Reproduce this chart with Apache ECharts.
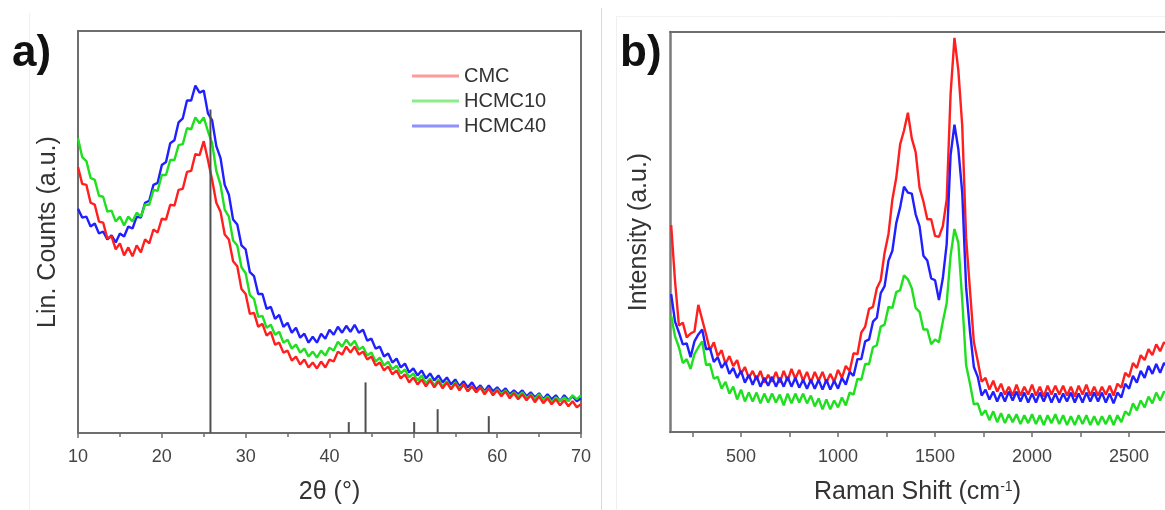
<!DOCTYPE html>
<html>
<head>
<meta charset="utf-8">
<script src="https://cdn.jsdelivr.net/npm/echarts@6/dist/echarts.min.js"></script>
<style>
html,body{margin:0;padding:0;background:#fff;}
#chart{width:1165px;height:510px;}
</style>
</head>
<body>
<div id="chart"></div>
<script>
// ---------- DATA ----------
// a) XRD: intensities (a.u.) sampled every 0.5 deg from 10 to 70 deg
const xrdStart = 10, xrdStep = 0.5;
const xrdCMC = [
268,251,250,232,230,213,212,196,198,185,
191,179,187,178,189,182,195,191,205,202,
216,215,230,229,245,246,263,264,281,280,
294,275,255,232,223,200,195,173,168,145,
140,120,121,107,110,98,102,89,91,81,
83,73,77,69,74,66,71,65,72,66,
74,72,82,79,87,81,87,79,82,74,
77,68,71,63,67,59,63,55,59,51,
56,49,54,47,53,46,52,45,51,44,
50,43,49,42,47,41,46,39,45,38,
43,37,42,35,40,34,39,33,38,31,
37,30,35,29,34,28,33,27,32,26,
29];
const xrdHCMC10 = [
297,278,274,257,255,239,238,223,224,213,
218,209,218,213,222,218,230,230,245,244,
260,260,275,275,290,291,307,306,318,312,
318,304,292,264,250,225,218,194,189,167,
161,139,135,117,118,106,109,99,102,91,
94,85,89,81,85,77,82,76,83,78,
86,83,92,87,94,88,93,84,87,78,
81,72,76,68,72,64,68,60,64,56,
60,53,58,50,55,48,54,47,52,45,
51,45,49,42,47,41,46,41,45,39,
44,39,43,37,41,37,41,35,39,34,
39,33,37,31,36,32,36,32,38,34,
38];
const xrdHCMC40 = [
226,217,218,208,211,201,203,195,199,192,
201,198,208,206,218,217,232,234,250,252,
270,273,292,295,313,317,335,335,350,343,
345,322,315,289,277,250,240,215,210,189,
185,162,158,140,140,125,127,115,119,107,
111,101,106,96,100,91,97,91,100,95,
104,99,107,101,108,102,109,101,104,93,
95,85,87,77,80,71,75,66,70,61,
65,58,63,55,60,53,58,51,56,49,
54,47,52,46,51,44,48,42,48,42,
46,41,45,39,43,39,43,37,41,36,
40,34,39,34,38,32,38,33,37,32,
35];
// reference pattern sticks: [2theta, relative height]
const xrdSticks = [[25.8,326],[42.3,11],[44.3,51],[50.1,11],[52.9,24],[59.0,17]];
const xrdTicks = [10,20,30,40,50,60,70];

// b) Raman: intensities (a.u.) sampled every 20 cm-1 from 140 to 2700 cm-1
const ramanStart = 140, ramanStep = 20;
const ramanCMC = [
210,153,108,111,96,100,102,129,114,99,
83,91,77,83,69,77,67,73,59,66,
55,62,53,62,50,58,51,61,50,62,
52,64,54,63,52,61,50,61,52,61,
50,59,51,63,55,67,62,80,79,101,
107,125,127,146,154,182,201,236,258,292,
306,324,298,284,248,234,216,216,199,198,
209,236,343,400,367,311,197,144,91,72,
51,55,43,52,41,49,38,46,37,48,
37,46,38,48,37,46,36,47,38,47,
38,47,37,46,36,47,38,48,37,46,
37,46,38,47,37,49,45,60,56,70,
65,78,73,84,78,89,82,91,88];
const ramanHCMC10 = [
118,97,86,70,74,64,79,86,92,68,
69,54,56,44,51,39,46,33,43,31,
40,31,40,29,39,30,39,30,38,27,
39,29,39,30,39,29,37,26,34,23,
33,23,32,25,35,27,40,38,54,53,
69,69,86,88,107,109,127,126,142,144,
159,155,146,126,122,104,104,89,94,91,
112,131,179,206,192,134,68,49,28,29,
17,22,12,21,10,19,9,18,10,18,
8,17,9,18,8,17,7,17,9,18,
8,17,7,16,7,17,8,17,7,16,
7,16,8,17,7,17,10,21,17,29,
22,32,25,36,29,40,32,41,38];
const ramanHCMC40 = [
140,112,101,89,90,76,92,99,104,84,
85,71,76,65,71,59,65,55,62,50,
58,48,57,46,55,47,56,46,55,46,
56,46,55,45,53,44,53,44,53,43,
53,43,52,44,55,48,61,57,74,74,
92,94,112,116,141,148,174,184,212,228,
249,243,242,221,209,179,174,156,154,134,
156,191,281,312,287,243,147,102,66,56,
37,43,33,41,31,40,31,41,32,41,
31,40,30,39,30,40,31,40,30,39,
30,39,31,40,30,39,30,40,31,40,
31,40,30,39,29,40,35,49,44,57,
50,62,55,67,59,69,60,70,66];
const ramanLabelTicks = [500,1000,1500,2000,2500];
const ramanMinorTicks = [250,500,750,1000,1250,1500,1750,2000,2250,2500];

const seriesNames = ['CMC','HCMC10','HCMC40'];
const seriesColors = {CMC:'#ff1f1f', HCMC10:'#1fe01f', HCMC40:'#1f1fff'};
const legendColors = {CMC:'#ff9a9a', HCMC10:'#8cec8c', HCMC40:'#8f8fff'};

// ---------- CHART ----------
const FONT = "'Liberation Sans', Arial, Helvetica, sans-serif";
const AX = '#6e6e6e';
const pairs = (arr, start, step) => arr.map((v, i) => [start + step * i, v]);
const ramanMin = 134, ramanMax = 2685;

const chart = echarts.init(document.getElementById('chart'), null, {renderer:'canvas'});

function lineSeries(name, data, xi, yi) {
  return {
    type:'line', name, xAxisIndex:xi, yAxisIndex:yi,
    data, showSymbol:false, symbol:'none', animation:false,
    lineStyle:{color:seriesColors[name], width:2.4},
    itemStyle:{color:seriesColors[name]},
    emphasis:{disabled:true}
  };
}

const option = {
  backgroundColor:'#ffffff',
  animation:false,
  grid:[
    {left:78, right:584, top:31, bottom:74, show:true, borderColor:AX, borderWidth:2, backgroundColor:'transparent'},
    {left:670, right:0, top:32, bottom:72, show:false}
  ],
  legend:{
    orient:'vertical', left:407, top:61, icon:'rect',
    itemWidth:47, itemHeight:3, itemGap:5,
    textStyle:{fontFamily:FONT, fontSize:20, color:'#333', lineHeight:20},
    selectedMode:false,
    data:seriesNames.map(n => ({name:n, itemStyle:{color:legendColors[n]}}))
  },
  xAxis:[
    {
      gridIndex:0, type:'value', min:10, max:70, interval:10,
      name:'2θ (°)', nameLocation:'middle', nameGap:47,
      nameTextStyle:{fontFamily:FONT, fontSize:25, color:'#333'},
      axisLine:{lineStyle:{color:AX, width:2}},
      axisTick:{show:true, length:5, lineStyle:{color:AX, width:1.5}, customValues:xrdTicks},
      minorTick:{show:true, splitNumber:2, length:4, lineStyle:{color:AX, width:1.5}},
      axisLabel:{fontFamily:FONT, fontSize:18, color:'#444', margin:15, customValues:xrdTicks},
      splitLine:{show:false}
    },
    {
      gridIndex:1, type:'value', min:ramanMin, max:ramanMax, position:'bottom',
      name:'Raman Shift (cm{sup|-1})', nameLocation:'middle', nameGap:48,
      nameTextStyle:{fontFamily:FONT, fontSize:25, color:'#333', padding:[0,0,0,0],
        rich:{sup:{fontFamily:FONT, fontSize:14, color:'#333', verticalAlign:'top', padding:[0,0,10,0]}}},
      axisLine:{lineStyle:{color:AX, width:2}},
      axisTick:{show:true, length:5, lineStyle:{color:AX, width:1.5}, customValues:ramanMinorTicks},
      axisLabel:{fontFamily:FONT, fontSize:18, color:'#444', margin:16, customValues:ramanLabelTicks,
        formatter:v => String(v)},
      splitLine:{show:false}
    },
    {
      gridIndex:1, type:'value', min:ramanMin, max:ramanMax, position:'top',
      axisLine:{show:true, lineStyle:{color:AX, width:2}},
      axisTick:{show:false}, axisLabel:{show:false}, splitLine:{show:false}
    }
  ],
  yAxis:[
    {
      gridIndex:0, type:'value', min:0, max:405,
      name:'Lin. Counts (a.u.)', nameLocation:'middle', nameGap:17,
      nameTextStyle:{fontFamily:FONT, fontSize:25, color:'#333'},
      axisLine:{show:true, lineStyle:{color:AX, width:2}},
      axisTick:{show:false}, axisLabel:{show:false}, splitLine:{show:false}
    },
    {
      gridIndex:1, type:'value', min:0, max:406,
      name:'Intensity (a.u.)', nameLocation:'middle', nameGap:18,
      nameTextStyle:{fontFamily:FONT, fontSize:25, color:'#333'},
      axisLine:{show:true, lineStyle:{color:'#7a7a7a', width:2.5}},
      axisTick:{show:false}, axisLabel:{show:false}, splitLine:{show:false}
    }
  ],
  series:[
    lineSeries('HCMC40', pairs(xrdHCMC40, xrdStart, xrdStep), 0, 0),
    lineSeries('HCMC10', pairs(xrdHCMC10, xrdStart, xrdStep), 0, 0),
    lineSeries('CMC', pairs(xrdCMC, xrdStart, xrdStep), 0, 0),
    {
      type:'bar', name:'reference', xAxisIndex:0, yAxisIndex:0,
      data:xrdSticks, barWidth:2, z:5, animation:false,
      itemStyle:{color:'#505050'}, emphasis:{disabled:true}
    },
    lineSeries('HCMC10', pairs(ramanHCMC10, ramanStart, ramanStep), 1, 1),
    lineSeries('CMC', pairs(ramanCMC, ramanStart, ramanStep), 1, 1),
    lineSeries('HCMC40', pairs(ramanHCMC40, ramanStart, ramanStep), 1, 1)
  ],
  graphic:[
    {type:'line', shape:{x1:601.5, y1:8, x2:601.5, y2:510}, style:{stroke:'#d9d9d9', lineWidth:1}, silent:true},
    {type:'line', shape:{x1:29.5, y1:13, x2:29.5, y2:510}, style:{stroke:'#f0f0f0', lineWidth:1}, silent:true},
    {type:'line', shape:{x1:616.5, y1:17, x2:616.5, y2:510}, style:{stroke:'#f0f0f0', lineWidth:1}, silent:true},
    {type:'line', shape:{x1:616, y1:16.5, x2:1165, y2:16.5}, style:{stroke:'#f2f2f2', lineWidth:1}, silent:true},
    {type:'text', left:12, top:32, silent:true,
      style:{text:'a)', font:'bold 44px ' + FONT, fill:'#111'}},
    {type:'text', left:620, top:32, silent:true,
      style:{text:'b)', font:'bold 44px ' + FONT, fill:'#111'}}
  ]
};
chart.setOption(option);
</script>
</body>
</html>
